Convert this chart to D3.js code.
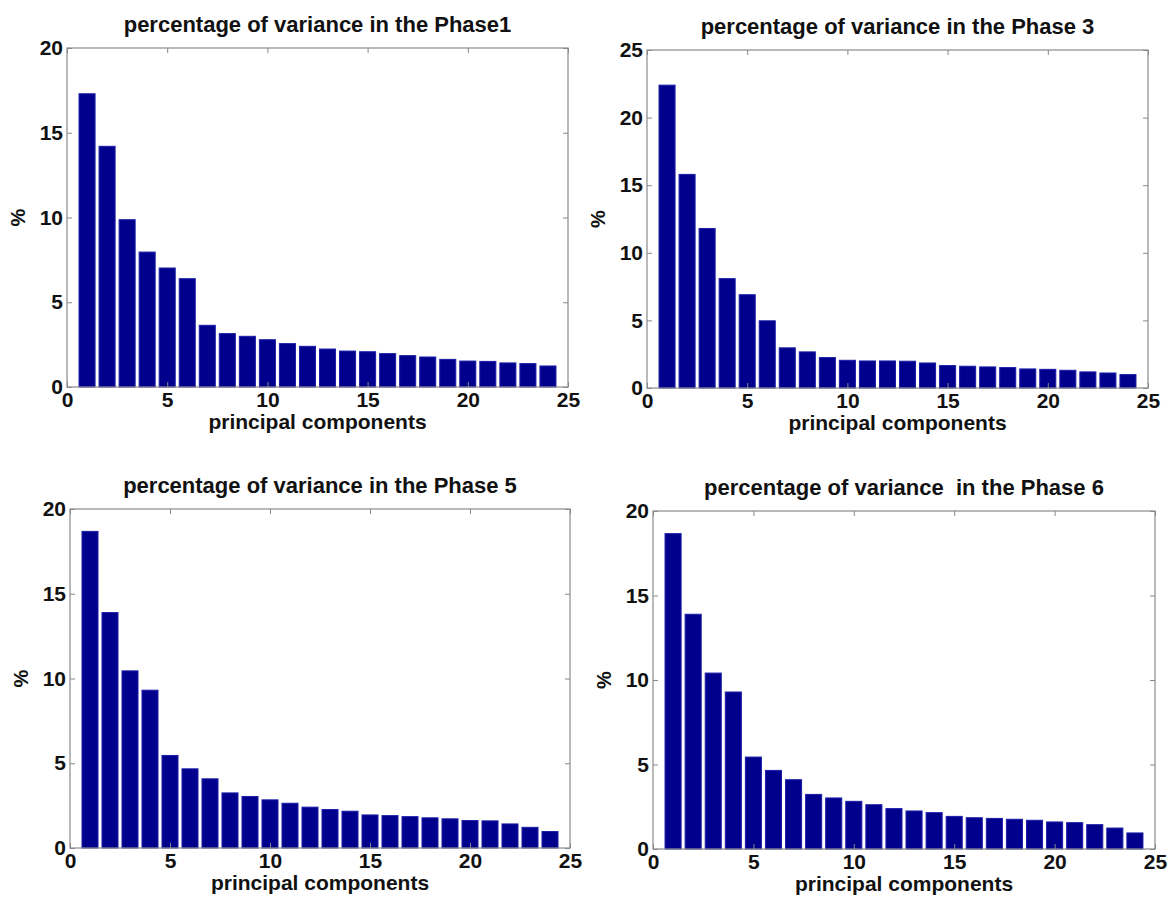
<!DOCTYPE html>
<html>
<head>
<meta charset="utf-8">
<script src="https://cdn.jsdelivr.net/npm/d3@7"></script>
<style>
  body { margin: 0; background: #fff; }
  svg { display: block; }
  text { font-family: "Liberation Sans", Arial, sans-serif; font-weight: bold; fill: #111; }
  .title { white-space: pre; }
</style>
</head>
<body>
<div id="chart"></div>
<script>
// principal component index on x
const components = [1,2,3,4,5,6,7,8,9,10,11,12,13,14,15,16,17,18,19,20,21,22,23,24];

// % of variance per component
const phase1 = [17.3, 14.2, 9.87, 7.96, 7.02, 6.39, 3.64, 3.15, 2.99, 2.79, 2.56, 2.40,
                2.24, 2.12, 2.08, 1.97, 1.85, 1.77, 1.63, 1.53, 1.51, 1.42, 1.38, 1.24];
const phase3 = [22.4, 15.8, 11.8, 8.09, 6.9, 4.97, 2.97, 2.67, 2.25, 2.05, 2.0, 2.0,
                1.98, 1.85, 1.66, 1.61, 1.56, 1.51, 1.41, 1.38, 1.31, 1.19, 1.11, 0.99];
const phase5 = [18.68, 13.89, 10.45, 9.31, 5.46, 4.67, 4.08, 3.25, 3.04, 2.84, 2.64, 2.41,
                2.27, 2.17, 1.95, 1.91, 1.85, 1.78, 1.72, 1.62, 1.60, 1.42, 1.22, 0.97];
const phase6 = [18.66, 13.89, 10.41, 9.29, 5.44, 4.65, 4.10, 3.23, 3.02, 2.82, 2.62, 2.39,
                2.25, 2.15, 1.93, 1.85, 1.81, 1.76, 1.70, 1.60, 1.56, 1.44, 1.24, 0.95];

const titles = [
  "percentage of variance in the Phase1",
  "percentage of variance in the Phase 3",
  "percentage of variance in the Phase 5",
  "percentage of variance  in the Phase 6"
];

const xTicks = [0, 5, 10, 15, 20, 25];
const yTicks20 = [0, 5, 10, 15, 20];
const yTicks25 = [0, 5, 10, 15, 20, 25];

const xLabel = "principal components";
const yLabel = "%";

const width = 1169;
const height = 897;

// panel boxes (left, top, right, bottom)
const panels = [
  { values: phase1, title: titles[0], yMax: 20, yTicks: yTicks20, box: [67, 48, 568, 387] },
  { values: phase3, title: titles[1], yMax: 25, yTicks: yTicks25, box: [647, 50, 1148, 388] },
  { values: phase5, title: titles[2], yMax: 20, yTicks: yTicks20, box: [70, 509, 570, 848] },
  { values: phase6, title: titles[3], yMax: 20, yTicks: yTicks20, box: [653, 511, 1155, 849] }
];

const svg = d3.select("#chart").append("svg")
  .attr("width", width)
  .attr("height", height);

panels.forEach(function(p) {
  const [x0, y0, x1, y1] = p.box;
  const w = x1 - x0;
  const h = y1 - y0;

  const x = d3.scaleLinear().domain([0, 25]).range([0, w]);
  const y = d3.scaleLinear().domain([0, p.yMax]).range([h, 0]);

  const g = svg.append("g").attr("transform", "translate(" + x0 + "," + y0 + ")");

  // bars
  const bw = x(0.8) - x(0);
  g.selectAll("rect.bar")
    .data(components)
    .enter().append("rect")
    .attr("class", "bar")
    .attr("x", (d) => x(d) - bw / 2)
    .attr("y", (d, i) => y(p.values[i]))
    .attr("width", bw)
    .attr("height", (d, i) => y(0) - y(p.values[i]))
    .attr("fill", "#00008c")
    .attr("stroke", "#1c1ca8")
    .attr("stroke-width", 1);

  // axes with inward ticks
  const bottom = g.append("g").attr("transform", "translate(0," + h + ")")
    .call(d3.axisBottom(x).tickValues(xTicks).tickSizeInner(-5).tickSizeOuter(0).tickPadding(5));
  const left = g.append("g")
    .call(d3.axisLeft(y).tickValues(p.yTicks).tickSizeInner(-5).tickSizeOuter(0).tickPadding(4));
  const top = g.append("g")
    .call(d3.axisTop(x).tickValues(xTicks).tickSizeInner(-5).tickSizeOuter(0).tickFormat(""));
  const right = g.append("g").attr("transform", "translate(" + w + ",0)")
    .call(d3.axisRight(y).tickValues(p.yTicks).tickSizeInner(-5).tickSizeOuter(0).tickFormat(""));

  [bottom, left, top, right].forEach(function(a) {
    a.select(".domain").remove();
    a.selectAll("line").attr("stroke", "#888");
    a.selectAll("text")
      .attr("fill", "#111")
      .style("font-size", "21px")
      .style("font-family", "'Liberation Sans', Arial, sans-serif")
      .style("font-weight", "bold");
  });
  bottom.selectAll("text").attr("dy", "0.72em");

  // frame
  g.append("rect")
    .attr("width", w)
    .attr("height", h)
    .attr("fill", "none")
    .attr("stroke", "#8a8a8a")
    .attr("stroke-width", 1.2);

  // title
  g.append("text")
    .attr("class", "title")
    .attr("x", w / 2)
    .attr("y", -16)
    .attr("text-anchor", "middle")
    .style("font-size", "22px")
    .text(p.title);

  // x label
  g.append("text")
    .attr("x", w / 2)
    .attr("y", h + 42)
    .attr("text-anchor", "middle")
    .style("font-size", "21px")
    .text(xLabel);

  // y label
  g.append("text")
    .attr("transform", "translate(" + (-42) + "," + (h / 2) + ") rotate(-90)")
    .attr("text-anchor", "middle")
    .style("font-size", "20px")
    .text(yLabel);
});
</script>
</body>
</html>
